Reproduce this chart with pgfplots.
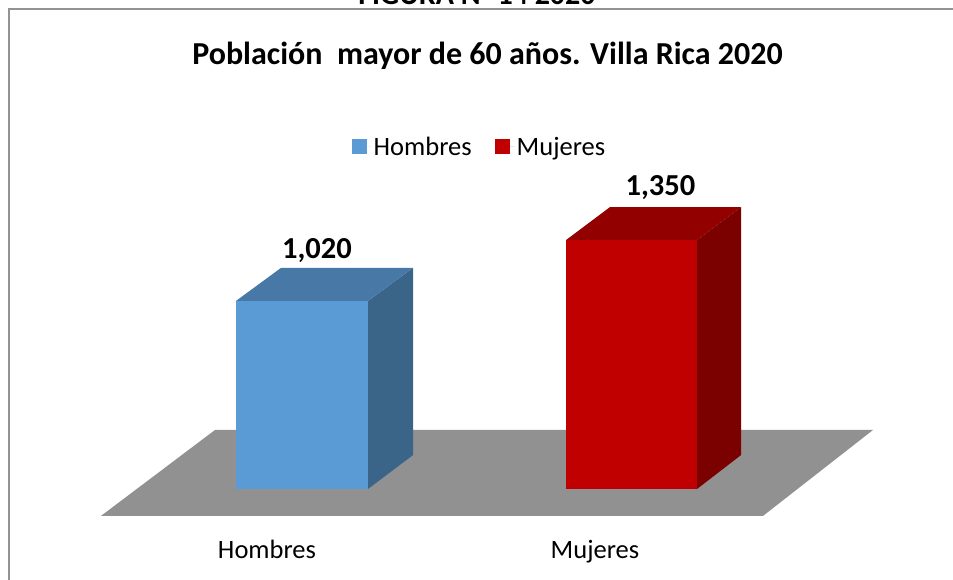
\documentclass[border=0pt]{standalone}
\usepackage{fontspec}
\setmainfont{Carlito}
\usepackage{pgfplots}
\pgfplotsset{compat=1.18}

\definecolor{hfront}{HTML}{5B9BD5}
\definecolor{htop}{HTML}{4878A6}
\definecolor{hside}{HTML}{3A6589}
\definecolor{mfront}{HTML}{C00000}
\definecolor{mtop}{HTML}{920000}
\definecolor{mside}{HTML}{7B0000}
\definecolor{floorgray}{HTML}{919191}

\begin{document}
\begin{tikzpicture}
\begin{axis}[
    scale only axis,
    width=953pt,
    height=580pt,
    xmin=0, xmax=953,
    ymin=-493.5, ymax=2652,
    clip=false,
    axis line style={draw=none},
    tick style={draw=none},
    ytick=\empty,
    xtick={267,595},
    xticklabels={Hombres,Mujeres},
    xticklabel style={font=\fontsize{26.5}{30}\selectfont, yshift=43pt},
    title={Población\ \ mayor de 60 años. Villa Rica 2020},
    title style={font=\fontsize{32}{36}\selectfont\bfseries, at={(487.5pt,518pt)}, anchor=center},
    legend columns=2,
    legend style={draw=none, fill=none, font=\fontsize{26.5}{30}\selectfont,
        at={(479.5pt,433pt)}, anchor=center,
        /tikz/every even column/.append style={column sep=21pt}},
    legend image code/.code={\fill[#1] (0pt,-7pt) rectangle (15pt,8pt); \path (0pt,0pt) -- (20pt,0pt);},
]

% frame
\addplot[forget plot, color=gray!85!white, line width=2pt] coordinates {
    (9,-493.5) (9,2603) (953,2603)
};

% floor
\addplot[forget plot, fill=floorgray, draw=none] coordinates {
    (101,-146) (763,-146) (873,320) (215,320)
} -- cycle;

% Hombres
\addplot[forget plot, fill=hside, draw=none] coordinates {
    (368,0) (413,184) (413,1199) (368,1020)
} -- cycle;
\addplot[forget plot, fill=htop, draw=none] coordinates {
    (236,1020) (368,1020) (413,1199) (281,1199)
} -- cycle;
\addplot[ybar, bar width=132pt, bar shift=0pt, fill=hfront, draw=none,
    nodes near coords={\pgfmathprintnumber[assume math mode=true,1000 sep={,}]{\pgfplotspointmeta}},
    nodes near coords style={font=\fontsize{30.5}{34}\selectfont\bfseries, color=black, anchor=center, xshift=15pt, yshift=50pt}]
    coordinates {(302,1020)};
\addlegendentry{Hombres}

% Mujeres
\addplot[forget plot, fill=mside, draw=none] coordinates {
    (697,0) (741,184) (741,1529) (697,1350)
} -- cycle;
\addplot[forget plot, fill=mtop, draw=none] coordinates {
    (566,1350) (697,1350) (741,1529) (610,1529)
} -- cycle;
\addplot[ybar, bar width=131pt, bar shift=0pt, fill=mfront, draw=none,
    nodes near coords={\pgfmathprintnumber[assume math mode=true,1000 sep={,}]{\pgfplotspointmeta}},
    nodes near coords style={font=\fontsize{30.5}{34}\selectfont\bfseries, color=black, anchor=center, xshift=29pt, yshift=53pt}]
    coordinates {(631.5,1350)};
\addlegendentry{Mujeres}

% cut-off line above the chart
\node[font=\fontsize{30}{34}\selectfont\bfseries, anchor=base] at (axis cs:477,2625) {FIGURA N° 14 2020};

\end{axis}
\pgfresetboundingbox
\path[use as bounding box] (0,0) rectangle (953pt,580pt);
\end{tikzpicture}
\end{document}
